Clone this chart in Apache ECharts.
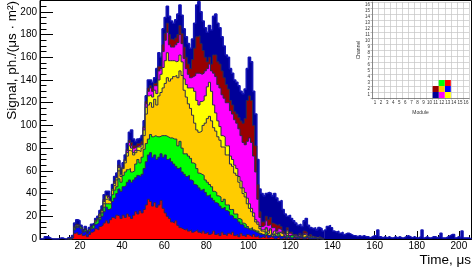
<!DOCTYPE html>
<html><head><meta charset="utf-8">
<script src="https://cdn.jsdelivr.net/npm/echarts@6/dist/echarts.min.js"></script>
<style>html,body{margin:0;padding:0;background:#fff}#c{width:472px;height:269px}#err{position:absolute;left:60px;top:20px;font:10px monospace;color:#c00;width:300px}</style>
</head><body><div id="c"></div><div id="err"></div>
<script>
window.onerror = function(m){ document.getElementById('err').textContent += ' ' + m; };
// ---- data: stacked histogram, 1 µs bins, first bin left edge = binStart ----
const binStart = 14;
const red = [0,0,1,5,6,4,5,3,4,2, 4,6,7,9,8,11,12,14,16,14, 17,19,18,21,20,18,21,19,22,20, 18,21,24,22,25,23,26,30,35,33,
  29,32,28,30,34,27,23,20,18,15, 14,16,12,10,9,8,9,7,8,6, 7,8,6,5,7,5,6,4,5,7, 4,5,3,6,4,3,5,4,6,3,
  4,2,5,3,2,4,3,2,4,2, 3,1,2,1,3,1,2,1,0,1, 2,0,1,0,1,0,0,1,0,0, 1,0,0,1,0,0,0,0,0,0, 0,0];
const blue = [0,0,1,3,4,7,4,3,3,3, 3,3,3,4,6,6,8,10,12,12, 10,14,18,19,24,24,25,28,28,32, 32,31,30,34,30,34,36,38,39,43,
  43,42,42,42,41,45,51,50,53,53, 52,48,50,53,50,49,46,49,44,45, 41,39,39,38,37,36,32,35,31,27, 28,26,26,21,24,22,19,17,14,15,
  13,13,8,9,8,5,5,6,3,4, 2,3,2,2,1,2,1,1,3,1, 1,2,1,1,1,1,1,1,1,1, 1,1,1,1,1,1,1,1,0,1, 0,0];
const green = [0,0,0,1,1,0,1,0,1,0, 1,1,2,2,3,2,3,4,3,5, 4,6,7,6,9,8,10,12,11,10, 9,8,12,14,12,15,17,16,14,16,
  18,17,20,18,16,19,17,20,18,21, 22,24,20,23,21,18,20,17,19,16, 18,15,13,14,12,11,12,9,10,8, 9,7,8,6,7,5,6,5,6,4,
  5,3,4,2,3,2,1,2,1,1, 2,1,0,1,2,0,1,0,1,0, 2,0,1,0,1,0,2,0,0,1, 0,0,1,0,0,1,0,0,0,0, 0,0];
const orange = [0,0,0,1,0,1,0,0,0,0, 0,0,0,1,1,2,2,3,4,3, 2,4,4,6,7,5,6,8,12,16, 18,14,10,8,10,8,12,26,30,28,
  26,32,28,36,38,42,46,52,50,52, 55,56,60,62,64,56,50,46,44,42, 36,34,36,38,44,50,56,60,58,56, 54,52,50,48,46,44,44,40,38,36,
  34,32,28,26,24,20,18,14,12,8, 6,4,3,2,3,2,4,2,1,2, 1,3,1,0,2,1,0,1,0,0, 1,0,2,1,0,0,1,0,0,0, 0,0];
const yellow = [0,0,0,0,1,0,0,0,0,0, 0,0,0,0,0,1,1,2,3,2, 1,1,2,2,3,2,1,2,3,4, 3,2,2,3,4,3,5,6,8,7,
  9,8,10,14,16,18,20,22,18,16, 14,12,15,14,12,10,11,14,18,24, 28,26,24,26,22,24,28,30,26,20, 16,14,12,10,9,8,8,7,6,7,
  6,5,6,5,4,5,4,3,3,2, 2,2,1,2,1,2,1,1,2,1, 0,1,0,1,2,1,0,0,1,0, 0,1,0,0,1,0,0,0,1,0, 0,0];
const magenta = [0,0,0,0,0,0,0,0,0,0, 0,0,0,0,0,0,0,1,0,1, 0,0,1,0,1,0,0,1,2,3, 2,4,3,1,2,1,2,3,4,6,
  5,4,7,8,5,14,18,18,14,12, 12,15,16,18,16,18,14,12,9,10, 14,24,28,24,24,22,16,16,18,28, 32,32,34,36,34,38,38,40,40,40,
  40,42,40,40,42,50,58,58,50,42, 20,8,3,4,6,5,4,5,3,2, 3,2,1,2,1,2,1,0,1,0, 1,0,1,2,0,1,0,0,0,1, 0,0];
const maroon = [0,0,0,1,1,0,0,0,1,0, 0,1,0,0,0,0,0,1,0,1, 0,0,1,0,1,0,0,0,1,2, 3,2,1,2,1,2,1,2,3,2,
  3,2,3,4,2,6,6,8,9,7, 6,6,7,8,9,10,10,9,8,15, 24,32,33,27,20,12,6,6,6,16, 19,20,21,21,18,16,12,9,8,7,
  8,10,13,17,23,36,37,37,27,23, 13,5,4,3,4,5,6,4,3,5, 4,3,2,1,2,1,2,1,1,0, 1,1,2,1,0,1,0,1,0,0, 1,0];
const navy = [1,1,1,3,4,4,2,2,2,2, 2,2,2,2,2,3,3,4,4,4, 3,4,4,4,4,4,4,4,5,7, 11,6,4,4,5,5,5,5,7,5,
  5,5,12,12,8,14,14,15,16,16, 15,16,18,18,16,16,18,18,18,18, 22,28,30,28,26,26,26,28,30,34, 36,34,32,30,28,26,28,28,28,28,
  28,28,26,26,26,28,34,34,30,28, 22,20,25,23,20,24,21,24,27,24, 20,23,19,17,10,15,12,12,10,10, 8,8,9,12,10,6,7,8,7,8, 8,7];
const headStart = 1;
const navyHead = [0,0,2,2,1,0,0,0,0,1,1,0,0];
const tailStart = 136;
const navyTail = [8,11,12,10,7,6,7,5,6,4, 5,5,4,3,3,2,3,2,3,2, 2,1,2,3,3,8,2,1,2,1, 2,1,1,2,1,2,1,1,2,3,
  2,1,2,1,1,2,8,1,2,1, 1,2,2,1,2,5,1,1,2,3, 4,4,1,2,1,7,1,1,1,0];
const xTicks = [20,40,60,80,100,120,140,160,180,200];
const yTicks = [0,20,40,60,80,100,120,140,160,180,200];
// inset: detector cell (module, channel) of each stacked series
const cellModule  = [13,13,12,12,13,12,11,11];
const cellChannel = [3,2,3,2,1,1,2,1];
const gridLabels = ['1','2','3','4','5','6','7','8','9','10','11','12','13','14','15','16'];

// ---- styling ----
const names = ['red','blue','green','orange','yellow','magenta','maroon','navy'];
const colors = ['#ff0000','#0000ff','#00ff00','#ffcc00','#ffff00','#ff00ff','#990000','#000099'];
const values = [red,blue,green,orange,yellow,magenta,maroon,navy];
const FONT = '"Liberation Sans", Arial, Helvetica, sans-serif';

function steps(arr, start){
  const d = arr.map((v,i)=>[start+i, v]);
  d.push([start+arr.length, arr[arr.length-1]]);
  return d;
}
// cumulative stack (as THStack draws it)
const cumul = [];
values.forEach((arr, k) => cumul.push(arr.map((v,i) => v + (k ? cumul[k-1][i] : 0))));

const minorX = []; for (let v=5; v<=205; v+=5) if (v%20) minorX.push(v);
const minorY = []; for (let v=5; v<=205; v+=5) if (v%20) minorY.push(v);

const series = cumul.map((arr, k) => ({
  type:'line', name:names[k], step:'end', symbol:'none', showSymbol:false,
  xAxisIndex:0, yAxisIndex:0, data: steps(arr, binStart),
  lineStyle:{color: k===7 ? '#1414b4' : '#2a2a50', width: k===7 ? 1.6 : 1},
  areaStyle:{color: colors[k], opacity:1},
  itemStyle:{color: colors[k]}, z: 20-k, animation:false, silent:true
}));
[[navyHead, headStart],[navyTail, tailStart]].forEach(([arr, st]) => series.push({
  type:'line', step:'end', symbol:'none', xAxisIndex:0, yAxisIndex:0, data: steps(arr, st),
  lineStyle:{color:'#1414b4', width:1.4}, areaStyle:{color:'#000099', opacity:1}, z:12, animation:false, silent:true
}));
series.push({
  type:'custom', xAxisIndex:2, yAxisIndex:2, animation:false, silent:true, z:5,
  data: cellModule.map((m,k)=>[String(m), String(cellChannel[k])]),
  encode:{x:0, y:1},
  renderItem: function(params, api){
    const c = api.coord([api.value(0), api.value(1)]);
    const s = api.size([1,1]);
    return {type:'rect', shape:{x:c[0]-s[0]/2, y:c[1]-s[1]/2, width:s[0], height:s[1]},
            style:{fill: colors[params.dataIndex]}};
  }
});

const insetAxis = (name, gap) => ({
  type:'category', gridIndex:1, data: gridLabels, boundaryGap:true,
  name, nameLocation:'middle', nameGap:gap, nameTextStyle:{fontSize:5, color:'#333', fontFamily:FONT},
  axisLine:{onZero:false, lineStyle:{color:'#555', width:0.6}},
  axisTick:{show:true, inside:false, length:1.5, lineStyle:{color:'#777', width:0.5}},
  axisLabel:{fontSize:4.5, color:'#333', margin:2, fontFamily:FONT, interval:0},
  splitLine:{show:true, interval:0, lineStyle:{color:'#c4c4c4', width:0.7}}
});

const option = {
  animation:false,
  backgroundColor:'#fff',
  grid:[
    {left:40, top:0.5, right:0.5, bottom:30, show:true, borderColor:'#000', borderWidth:1, backgroundColor:'transparent'},
    {left:372, top:2, width:97, height:96, show:false}
  ],
  xAxis:[
    {type:'value', gridIndex:0, min:1, max:206,
     axisLine:{show:true, onZero:false, lineStyle:{color:'#000', width:1}},
     axisTick:{show:true, inside:true, length:8, customValues:xTicks, lineStyle:{color:'#000'}},
     axisLabel:{customValues:xTicks, fontSize:10, color:'#000', margin:2, fontFamily:FONT},
     splitLine:{show:false}},
    {type:'value', gridIndex:0, min:1, max:206, position:'bottom',
     axisLine:{show:false, onZero:false},
     axisTick:{show:true, inside:true, length:4, customValues:minorX, lineStyle:{color:'#000'}},
     axisLabel:{show:false}, splitLine:{show:false}},
    insetAxis('Module', 12)
  ],
  yAxis:[
    {type:'value', gridIndex:0, min:0, max:210,
     axisLine:{show:true, onZero:false, lineStyle:{color:'#000', width:1}},
     axisTick:{show:true, inside:true, length:13, customValues:yTicks, lineStyle:{color:'#000'}},
     axisLabel:{customValues:yTicks, fontSize:10, color:'#000', margin:3, fontFamily:FONT},
     splitLine:{show:false}},
    {type:'value', gridIndex:0, min:0, max:210, position:'left',
     axisLine:{show:false, onZero:false},
     axisTick:{show:true, inside:true, length:6.5, customValues:minorY, lineStyle:{color:'#000'}},
     axisLabel:{show:false}, splitLine:{show:false}},
    insetAxis('Channel', 8)
  ],
  graphic:[
    {type:'text', x:12, y:1, rotation:Math.PI/2, silent:true,
     style:{text:'Signal, ph./(μs · m²)', fontSize:13.5, fontFamily:FONT, fill:'#000', align:'right', verticalAlign:'middle'}},
    {type:'text', x:471, y:260, silent:true,
     style:{text:'Time, μs', fontSize:13.5, fontFamily:FONT, fill:'#000', align:'right', verticalAlign:'middle'}}
  ],
  series
};
try {
  const chart = echarts.init(document.getElementById('c'), null, {renderer:'canvas'});
  chart.setOption(option);
} catch(e) { document.getElementById('err').textContent += ' ' + e.message; }
</script></body></html>
